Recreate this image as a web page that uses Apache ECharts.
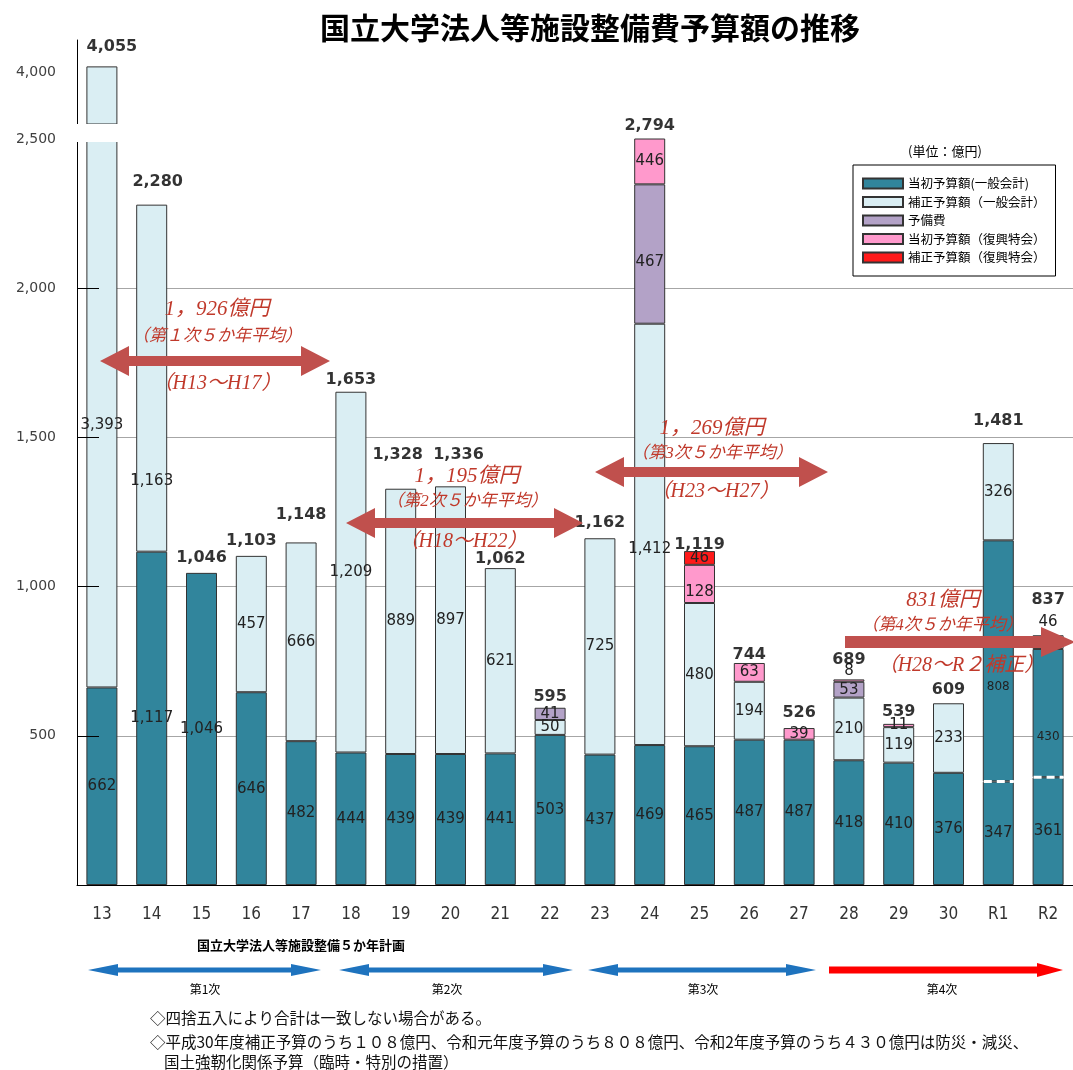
<!DOCTYPE html>
<html><head><meta charset="utf-8">
<script src="https://cdn.jsdelivr.net/npm/echarts@6/dist/echarts.min.js"></script>
<style>html,body{margin:0;padding:0;background:#fff}#c{width:1073px;height:1070px}</style>
</head><body><div id="c"></div>
<script>
// ---------------- data ----------------
const years = ['13','14','15','16','17','18','19','20','21','22','23','24','25','26','27','28','29','30','R1','R2'];
const initialGeneral      = [662,1117,1046,646,482,444,439,439,441,503,437,469,465,487,487,418,410,376,347,361];
const initialSpecial      = [null,null,null,null,null,null,null,null,null,null,null,null,null,null,null,null,null,null,808,430];
const supplementaryGeneral= [3393,1163,null,457,666,1209,889,897,621,50,725,1412,480,194,null,210,119,233,326,46];
const reserveFund         = [null,null,null,null,null,null,null,null,null,41,null,467,null,null,null,53,null,null,null,null];
const initialRecon        = [null,null,null,null,null,null,null,null,null,null,null,446,128,63,39,8,11,null,null,null];
const supplementaryRecon  = [null,null,null,null,null,null,null,null,null,null,null,null,46,null,null,null,null,null,null,null];
const totals              = [4055,2280,1046,1103,1148,1653,1328,1336,1062,595,1162,2794,1119,744,526,689,539,609,1481,837];
const yTickValues = [500,1000,1500,2000,2500];
const upperTickValues = [4000];

// ---------------- chart ----------------
const AX_MAX = 2500, UP_MIN = 3520, UP_MAX = 4300;
const fmt = v => Number(v).toLocaleString('en-US');
const NUM_FONT = 'DejaVu Sans, Verdana, sans-serif';
const JP = '"Noto Sans CJK JP", sans-serif';
const BAR_W = 31;

// label adjustments (style only)
const segOffsets = {
  sup:  {0:[0,12], 1:[0,103], 11:[0,15], 19:[0,-20]},
  spec: {18:[0,26], 19:[0,24]},
  res:  {11:[0,8]},
  irec: {12:[0,8], 15:[0,-9]}
};
const totalLift = [6,9,2,2,14,-2,20,18,-4,-3,2,0,-7,-5,2,6,-1,0,9,22];
const totalShift = {0:10, 1:6, 6:-3, 7:8};

function segData(arr, key) {
  const off = segOffsets[key] || {};
  return arr.map((v,i) => v == null ? null : (off[i] ? {value:v, label:{offset:off[i]}} : v));
}
const segLabel = (size) => ({show:true, position:'inside', color:'#222', fontSize:size||15,
  fontFamily:NUM_FONT, textBorderWidth:0, formatter:p => fmt(p.value)});

const segDefs = [
  {key:'ig',   name:'当初予算額(一般会計)', arr:initialGeneral, color:'#31859C'},
  {key:'spec', name:'当初予算額(一般会計) 臨時・特別の措置', arr:initialSpecial, color:'#31859C', fs:12},
  {key:'sup',  name:'補正予算額（一般会計）', arr:supplementaryGeneral, color:'#DAEEF3'},
  {key:'res',  name:'予備費', arr:reserveFund, color:'#B3A2C7'},
  {key:'irec', name:'当初予算額（復興特会）', arr:initialRecon, color:'#FF99CC'},
  {key:'srec', name:'補正予算額（復興特会）', arr:supplementaryRecon, color:'#FF1A1A'}
];

const series = [];
segDefs.forEach(d => {
  series.push({
    type:'bar', name:d.name, stack:'main', xAxisIndex:0, yAxisIndex:0, barWidth:BAR_W,
    data:segData(d.arr, d.key),
    itemStyle:{color:d.color, borderColor:'#333', borderWidth:1},
    label:segLabel(d.fs), z:2
  });
});
// upper (broken) part of the axis
segDefs.forEach(d => {
  series.push({
    type:'bar', name:d.name, stack:'up', xAxisIndex:1, yAxisIndex:1, barWidth:BAR_W,
    data:d.arr.map((v,i) => totals[i] > UP_MIN ? v : null),
    itemStyle:{color:d.color, borderColor:'#333', borderWidth:1},
    label:{show:false}, silent:true, z:2
  });
});
// totals
series.push({
  type:'scatter', name:'total', xAxisIndex:0, yAxisIndex:0, symbolSize:1,
  itemStyle:{color:'rgba(0,0,0,0)'}, z:5, silent:true,
  data:totals.map((t,i) => totals[i] > UP_MIN ? null :
     {value:Math.min(t, AX_MAX), label:{offset:[totalShift[i]||0, -totalLift[i]]}}),
  label:{show:true, position:'top', distance:5, color:'#000', fontSize:16, fontWeight:'bold',
    fontFamily:NUM_FONT, formatter:p => fmt(totals[p.dataIndex])}
});
series.push({
  type:'scatter', name:'totalUp', xAxisIndex:1, yAxisIndex:1, symbolSize:1,
  itemStyle:{color:'rgba(0,0,0,0)'}, z:5, silent:true,
  data:totals.map((t,i) => t > UP_MIN ? {value:t, label:{offset:[totalShift[i]||0, -totalLift[i]]}} : null),
  label:{show:true, position:'top', distance:5, color:'#000', fontSize:16, fontWeight:'bold',
    fontFamily:NUM_FONT, formatter:p => fmt(totals[p.dataIndex])}
});
// dashed white split line inside R1 / R2 dark bars
series.push({
  type:'custom', name:'split', xAxisIndex:0, yAxisIndex:0, z:4, silent:true,
  data:initialSpecial.map((v,i) => v == null ? null : [i, initialGeneral[i]]).filter(Boolean),
  renderItem:(params, api) => {
    const p = api.coord([api.value(0), api.value(1)]);
    return {type:'line', shape:{x1:p[0]-BAR_W/2+1, y1:p[1], x2:p[0]+BAR_W/2, y2:p[1]},
      style:{stroke:'#fff', lineWidth:3, lineDash:[8,5]}};
  }
});

// annotation helpers (graphic)
function arrow(x1, x2, y, sh, hh, hl, color, leftHead) {
  const pts = [];
  if (leftHead) pts.push([x1,y],[x1+hl,y-hh],[x1+hl,y-sh]); else pts.push([x1,y-sh]);
  pts.push([x2-hl,y-sh],[x2-hl,y-hh],[x2,y],[x2-hl,y+hh],[x2-hl,y+sh]);
  if (leftHead) pts.push([x1+hl,y+sh],[x1+hl,y+hh]); else pts.push([x1,y+sh]);
  return {type:'polygon', shape:{points:pts}, style:{fill:color}, z:60, silent:true};
}
function txt(x, y, text, opt) {
  return {type:'text', x, y, z:61, silent:true, style:Object.assign({text, fill:'#000',
    fontSize:13, fontFamily:JP, align:'center', verticalAlign:'middle'}, opt||{})};
}
const RED_T = '#C0392B', RED_A = '#C0504D';
const serif = '"Liberation Serif", "Noto Sans CJK JP", serif';
const ann = (x, y, t, s) => txt(x, y, t, {fill:RED_T, fontSize:s, fontStyle:'italic', fontFamily:serif});

const graphic = [
  {type:'rect', shape:{x:68, y:124, width:60, height:18}, style:{fill:'#fff'}, z:10, silent:true},
  txt(590, 28, '国立大学法人等施設整備費予算額の推移', {fontSize:30, fontWeight:'bold'}),
  txt(945, 151, '(単位：億円)', {fontSize:13}),
  // averages
  ann(217, 309, '1，926億円', 21), ann(217, 337, '（第１次５か年平均）', 17),
  arrow(100, 330, 361, 5, 15, 29, RED_A, true), ann(217, 384, '（H13～H17）', 20),
  ann(467, 476, '1，195億円', 21), ann(467, 502, '（第2次５か年平均）', 17),
  arrow(346, 583, 523, 5, 15, 29, RED_A, true), ann(463, 542, '（H18～H22）', 20),
  ann(712, 428, '1，269億円', 21), ann(712, 454, '（第3次５か年平均）', 17),
  arrow(595, 828, 472, 5, 15, 29, RED_A, true), ann(715, 492, '（H23～H27）', 20),
  ann(943, 600, '831億円', 21), ann(942, 626, '（第4次５か年平均）', 17),
  arrow(845, 1075, 642, 6, 15, 34, RED_A, false), ann(961, 666, '（H28～R２補正）', 20),
  // 5-year plans
  txt(197, 945, '国立大学法人等施設整備５か年計画', {fontSize:13, fontWeight:'bold', align:'left'}),
  arrow(88, 321, 970, 2.5, 6, 30, '#1E73BE', true),
  arrow(339, 573, 970, 2.5, 6, 30, '#1E73BE', true),
  arrow(588, 816, 970, 2.5, 6, 30, '#1E73BE', true),
  arrow(829, 1063, 970, 3.5, 7, 26, '#FF0000', false),
  txt(205, 989, '第1次', {fontSize:12}), txt(447, 989, '第2次', {fontSize:12}),
  txt(703, 989, '第3次', {fontSize:12}), txt(942, 989, '第4次', {fontSize:12}),
  txt(150, 1018, '◇四捨五入により合計は一致しない場合がある。', {fontSize:15.5, align:'left', fill:'#111'}),
  txt(150, 1042, '◇平成30年度補正予算のうち１０８億円、令和元年度予算のうち８０８億円、令和2年度予算のうち４３０億円は防災・減災、', {fontSize:15.5, align:'left', fill:'#111'}),
  txt(164, 1062, '国土強靭化関係予算（臨時・特別の措置）', {fontSize:15.5, align:'left', fill:'#111'})
];

const chart = echarts.init(document.getElementById('c'), null, {renderer:'canvas'});
chart.setOption({
  animation:false,
  backgroundColor:'#fff',
  grid:[
    {left:77, right:-10, top:139, bottom:185},
    {left:77, right:-10, top:40, height:84}
  ],
  legend:{
    data:['当初予算額(一般会計)','補正予算額（一般会計）','予備費','当初予算額（復興特会）','補正予算額（復興特会）'],
    orient:'vertical', left:853, top:165, icon:'rect', itemWidth:40, itemHeight:10, itemGap:5.5,
    padding:[12,10,12,9], borderColor:'#000', borderWidth:1, backgroundColor:'#fff',
    textStyle:{fontSize:12.5, lineHeight:13, color:'#000', fontFamily:JP}, selectedMode:false
  },
  xAxis:[
    {gridIndex:0, type:'category', data:years,
      axisLine:{lineStyle:{color:'#000', width:1}},
      axisTick:{inside:true, length:6, lineStyle:{color:'#000'}},
      axisLabel:{fontSize:17, color:'#333', margin:21, fontFamily:'"Liberation Sans Narrow", "DejaVu Sans Condensed", sans-serif'}},
    {gridIndex:1, type:'category', data:years, show:false}
  ],
  yAxis:[
    {gridIndex:0, type:'value', position:'left', min:0, max:AX_MAX, interval:500,
      axisLine:{show:true, lineStyle:{color:'#000'}},
      axisTick:{show:false},
      axisLabel:{customValues:yTickValues, formatter:v => v === 0 ? '' : fmt(v), fontSize:14, color:'#404040', margin:21, fontFamily:NUM_FONT},
      splitLine:{show:true, showMinLine:false, showMaxLine:false, lineStyle:{color:'#A6A6A6'}}},
    {gridIndex:1, type:'value', position:'left', min:UP_MIN, max:UP_MAX, interval:160,
      axisLine:{show:true, lineStyle:{color:'#000'}},
      axisTick:{show:false},
      axisLabel:{customValues:upperTickValues, formatter:v => upperTickValues.includes(v) ? fmt(v) : '', fontSize:14, color:'#404040', margin:21, fontFamily:NUM_FONT},
      splitLine:{show:false}},
    // tick overlay drawn above the bars
    {gridIndex:0, type:'value', position:'left', min:0, max:AX_MAX, interval:500, z:6,
      axisLine:{show:false},
      axisTick:{show:true, inside:true, length:22, lineStyle:{color:'#000'}, customValues:yTickValues.filter(v => v < AX_MAX)},
      axisLabel:{show:false}, splitLine:{show:false}}
  ],
  series,
  graphic
});
</script></body></html>
